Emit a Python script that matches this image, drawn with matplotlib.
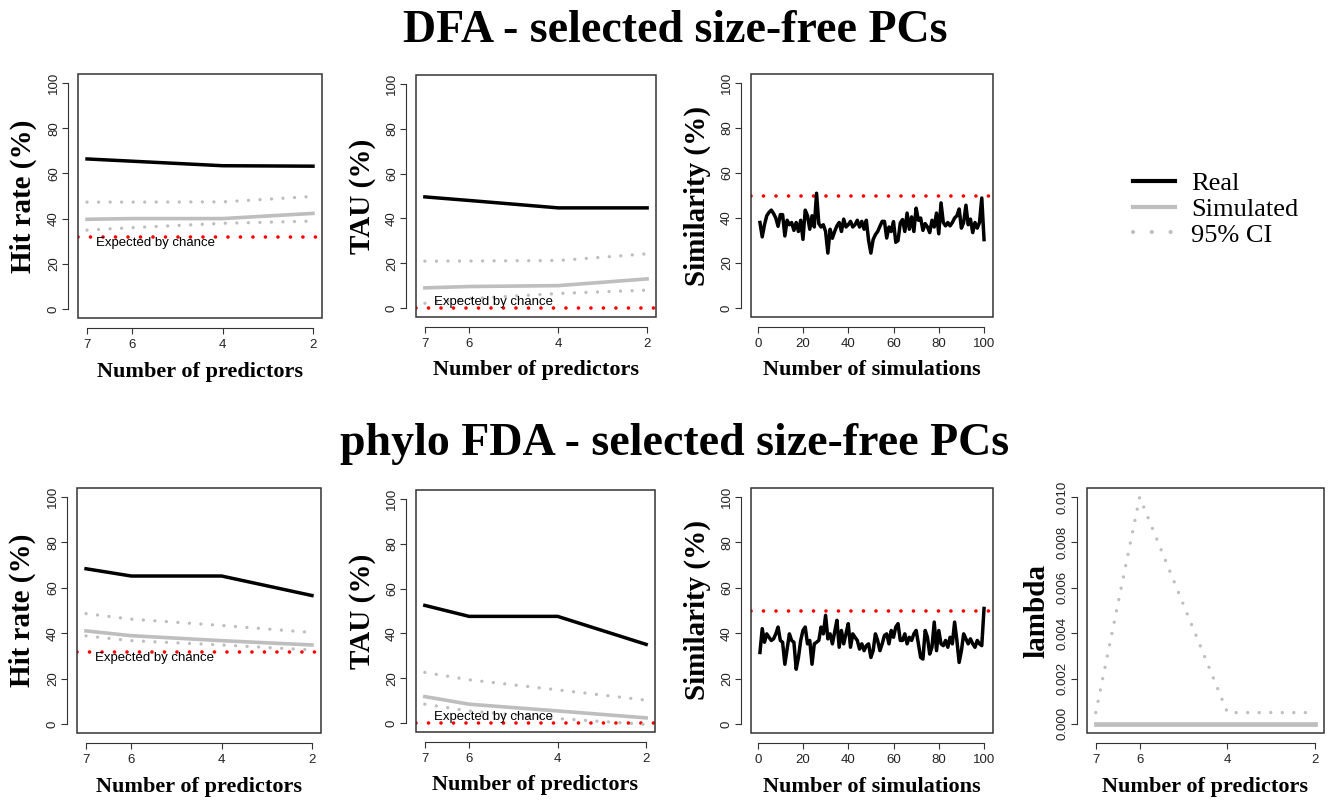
import numpy as np
import matplotlib.pyplot as plt
from matplotlib.patches import Rectangle
from matplotlib.lines import Line2D

plt.rcParams['font.family'] = ['Liberation Sans', 'DejaVu Sans']

W, H = 1331, 800
GRAY = '#BEBEBE'
SERIF = 'Liberation Serif'

n_pred = [7, 6, 4, 2]

# DFA - hit rate
dfa_hit_real = [66.4, 65.4, 63.4, 63.2]
dfa_hit_sim = [39.7, 40.0, 40.0, 42.3]
dfa_hit_ci_hi = [47.3, 47.3, 47.4, 49.8]
dfa_hit_ci_lo = [34.9, 36.0, 37.9, 38.9]
dfa_hit_chance = 31.8

# DFA - TAU
dfa_tau_real = [49.6, 48.0, 44.7, 44.7]
dfa_tau_sim = [9.0, 9.6, 10.0, 13.0]
dfa_tau_ci_hi = [20.9, 21.0, 21.2, 24.2]
dfa_tau_ci_lo = [2.1, 4.2, 6.5, 8.0]
dfa_tau_chance = 0.0

# phylo FDA - hit rate
fda_hit_real = [68.4, 65.2, 65.2, 56.6]
fda_hit_sim = [41.0, 38.9, 36.7, 34.8]
fda_hit_ci_hi = [48.6, 46.2, 43.4, 40.3]
fda_hit_ci_lo = [38.8, 36.7, 34.8, 32.6]
fda_hit_chance = 31.8

# phylo FDA - TAU
fda_tau_real = [52.5, 47.6, 47.6, 35.1]
fda_tau_sim = [11.8, 8.4, 5.4, 2.3]
fda_tau_ci_hi = [22.6, 19.3, 14.8, 10.2]
fda_tau_ci_lo = [8.4, 5.4, 2.0, -0.6]
fda_tau_chance = 0.0

# phylo FDA - lambda
lam_real = [0.0, 0.0, 0.0, 0.0]
lam_sim = [0.0, 0.0, 0.0, 0.0]
lam_ci_hi = [0.0005, 0.010, 0.0005, 0.0005]
lam_ci_lo = [0.0, 0.0, 0.0, 0.0]

# similarity between real and simulated results, 100 simulations
sim_dfa = [38, 31.6, 37, 41, 42.5, 43.5, 42, 40, 36.3, 41.5,
           41.5, 32, 39, 37, 38, 34.5, 38, 34, 39, 30.5,
           43.5, 41, 35, 41, 36, 51, 37.5, 36, 37, 34,
           24.4, 35, 31, 34, 36.5, 38, 34, 39.5, 36, 37,
           38.5, 36, 37, 39, 36, 38.5, 35, 39, 30, 24.4,
           30.4, 32.6, 34, 36.3, 38.5, 38.5, 31.1, 36, 34, 38.4,
           29.2, 30, 37.8, 39.3, 34, 42.2, 35, 40.5, 34, 44.4,
           39, 40, 34.5, 37.5, 36, 33.5, 39, 36, 42.2, 33,
           46.7, 38, 36.5, 38, 36.5, 38, 40, 41, 44, 35.5,
           38, 45.7, 37, 39.5, 33.5, 38, 35.5, 38, 48.9, 30.4]
sim_fda = [31.5, 42.0, 36.0, 39.7, 38.2, 36.8, 37.5, 39.7, 42.7, 36.8,
           36.0, 26.3, 33.0, 39.7, 36.8, 36.0, 24.1, 29.3, 36.8, 41.2,
           42.7, 35.3, 36.8, 26.3, 35.3, 36.0, 36.8, 42.7, 39.7, 47.9,
           37.5, 39.7, 35.3, 40.5, 45.7, 33.8, 41.2, 35.3, 39.7, 44.2,
           33.8, 39.7, 38.2, 36.8, 33.0, 35.3, 32.3, 34.5, 35.3, 29.3,
           32.3, 39.7, 36.8, 32.3, 35.3, 39.0, 39.7, 35.3, 41.2, 38.2,
           42.7, 44.2, 36.8, 36.8, 39.7, 35.3, 38.2, 36.8, 39.7, 41.2,
           35.3, 29.3, 28.6, 41.2, 38.2, 30.8, 33.8, 44.9, 32.3, 41.2,
           35.3, 34.5, 36.8, 33.8, 38.2, 35.3, 44.9, 36.8, 27.1, 32.3,
           39.7, 37.5, 35.3, 37.5, 35.3, 33.8, 36.8, 35.3, 34.5, 50.9]
sim_chance = 50.0

dot_ls = (0, (0.01, 3.45))


def make_axes(fig, left, top, right, bottom):
    return fig.add_axes([left / W, 1 - bottom / H, (right - left) / W, (bottom - top) / H])


def r_style(ax, xlim, ylim, xticks, yticks, ylabel, xlabel, yfmt=None):
    ax.set_xlim(xlim)
    ax.set_ylim(ylim)
    ax.set_xticks(xticks)
    ax.set_yticks(yticks)
    if yfmt:
        ax.set_yticklabels([yfmt.format(v) for v in yticks])
    for s in ['top', 'right']:
        ax.spines[s].set_visible(False)
    for s in ['left', 'bottom']:
        ax.spines[s].set_position(('outward', 7))
        ax.spines[s].set_linewidth(0.8)
        ax.spines[s].set_color('#333333')
    ax.spines['left'].set_bounds(min(yticks), max(yticks))
    ax.spines['bottom'].set_bounds(min(xticks), max(xticks))
    ax.add_patch(Rectangle((0, 0), 1, 1, transform=ax.transAxes, fill=False,
                           lw=1.1, ec='#333333', clip_on=False, zorder=6))
    ax.tick_params(length=4, width=0.8, color='#333333', labelsize=9.5, labelcolor='#222222')
    ax.tick_params(axis='x', pad=4)
    ax.tick_params(axis='y', pad=2, labelrotation=90)
    for lab in ax.get_yticklabels():
        lab.set_va('center')
    ax.set_ylabel(ylabel, family=SERIF, weight='bold', fontsize=21, va='center')
    ax.yaxis.set_label_coords(-0.222, 0.5)
    ax.set_xlabel(xlabel, family=SERIF, weight='bold', fontsize=16, va='center')
    ax.xaxis.set_label_coords(0.5, -0.22)


def rate_panel(ax, real, sim, ci_hi, ci_lo, chance, text_dy, ylabel):
    ax.axhline(chance, color='red', lw=2.6, ls=dot_ls, dash_capstyle='round', zorder=2)
    ax.plot(n_pred, ci_hi, color=GRAY, lw=2.4, ls=dot_ls, dash_capstyle='round', zorder=3)
    ax.plot(n_pred, ci_lo, color=GRAY, lw=2.4, ls=dot_ls, dash_capstyle='round', zorder=3)
    ax.plot(n_pred, sim, color=GRAY, lw=2.6, zorder=4)
    ax.plot(n_pred, real, color='black', lw=2.5, zorder=5)
    ax.text(6.8, chance + text_dy, 'Expected by chance', fontsize=9.5, ha='left', va='center', zorder=7)
    r_style(ax, (7.2, 1.8), (-4, 104), n_pred, [0, 20, 40, 60, 80, 100],
            ylabel, 'Number of predictors')


def sim_panel(ax, values):
    x = np.arange(1, len(values) + 1)
    ax.axhline(sim_chance, color='red', lw=2.6, ls=dot_ls, dash_capstyle='round', zorder=2)
    ax.plot(x, values, color='black', lw=2.5, zorder=5)
    r_style(ax, (-2.96, 103.96), (-4, 104), [0, 20, 40, 60, 80, 100], [0, 20, 40, 60, 80, 100],
            'Similarity (%)', 'Number of simulations')


fig = plt.figure(figsize=(W / 100, H / 100), dpi=100)

ax1 = make_axes(fig, 78, 74, 322, 318)
rate_panel(ax1, dfa_hit_real, dfa_hit_sim, dfa_hit_ci_hi, dfa_hit_ci_lo, dfa_hit_chance, -2.6, 'Hit rate (%)')
ax2 = make_axes(fig, 416, 75, 656, 317)
rate_panel(ax2, dfa_tau_real, dfa_tau_sim, dfa_tau_ci_hi, dfa_tau_ci_lo, dfa_tau_chance, 2.5, 'TAU (%)')
ax3 = make_axes(fig, 751, 74, 993, 317)
sim_panel(ax3, sim_dfa)

ax4 = make_axes(fig, 77, 488, 321, 733)
rate_panel(ax4, fda_hit_real, fda_hit_sim, fda_hit_ci_hi, fda_hit_ci_lo, fda_hit_chance, -2.9, 'Hit rate (%)')
ax5 = make_axes(fig, 416, 490, 655, 732)
rate_panel(ax5, fda_tau_real, fda_tau_sim, fda_tau_ci_hi, fda_tau_ci_lo, fda_tau_chance, 2.7, 'TAU (%)')
ax6 = make_axes(fig, 751, 488, 993, 733)
sim_panel(ax6, sim_fda)

ax7 = make_axes(fig, 1087, 488, 1324, 733)
ax7.plot(n_pred, lam_ci_hi, color=GRAY, lw=2.4, ls=dot_ls, dash_capstyle='round', zorder=3)
ax7.plot(n_pred, lam_ci_lo, color=GRAY, lw=2.4, ls=dot_ls, dash_capstyle='round', zorder=3)
ax7.plot(n_pred, lam_real, color=GRAY, lw=2.0, zorder=4)
ax7.plot(n_pred, lam_sim, color=GRAY, lw=3.4, zorder=5)
lam_ticks = [0.0, 0.002, 0.004, 0.006, 0.008, 0.010]
r_style(ax7, (7.2, 1.8), (-0.0004, 0.0104), n_pred, lam_ticks,
        'lambda', 'Number of predictors', yfmt='{:.3f}')
ax7.yaxis.set_label_coords(-0.21, 0.5)

fig.text(0.507, 1 - 31 / H, 'DFA - selected size-free PCs', family=SERIF, weight='bold',
         fontsize=33, ha='center', va='center')
fig.text(0.507, 1 - 444 / H, 'phylo FDA - selected size-free PCs', family=SERIF, weight='bold',
         fontsize=33, ha='center', va='center')

handles = [Line2D([], [], color='black', lw=3),
           Line2D([], [], color=GRAY, lw=3),
           Line2D([], [], color=GRAY, lw=3, ls=(0, (0.01, 4.5)), dash_capstyle='round')]
fig.legend(handles, ['Real', 'Simulated', '95% CI'], loc='upper left',
           bbox_to_anchor=(1133 / W, 1 - 172 / H), frameon=False,
           prop={'family': SERIF, 'size': 19}, handlelength=1.6, handletextpad=0.6,
           labelspacing=0.08, borderpad=0, borderaxespad=0)

fig.savefig('out.png', dpi=100)
